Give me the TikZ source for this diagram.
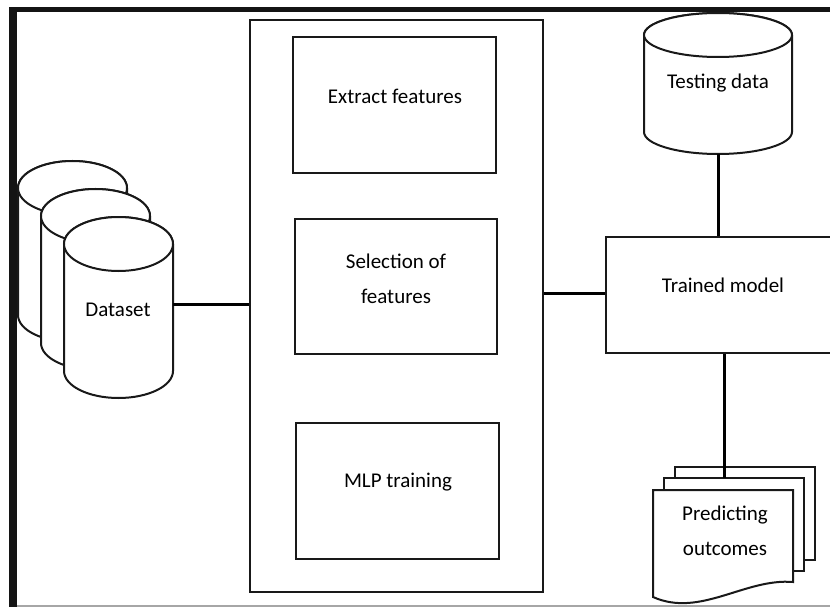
\documentclass[tikz,border=0pt]{standalone}
\usepackage{fontspec}
\setmainfont{Carlito}
\begin{document}
\begin{tikzpicture}[x=1pt,y=1pt,
  every node/.style={font=\fontsize{21}{35}\selectfont, text=black, inner sep=0pt},
  boxshape/.style={draw=black!90, line width=2pt, fill=white, inner sep=0pt},
  phantom/.style={draw=none, inner sep=0pt},
  shapeline/.style={draw=black!90, line width=2pt, fill=white},
  conn/.style={draw=black, line width=3pt}]
\useasboundingbox (0,0) rectangle (830,-607);
\clip (0,0) rectangle (830,-607);
\fill[white] (0,0) rectangle (830,-607);
% frame
\fill[black!92] (9,-7) rectangle (17,-607);
\fill[black!92] (9,-7) rectangle (830,-12);
\draw[gray!70, line width=1.5pt] (17,-606) -- (830,-606);

% main container and inner boxes
\node[boxshape, minimum width=293, minimum height=572] (main) at (396.5,-306) {};
\node[boxshape, minimum width=203, minimum height=136] (extract) at (394.5,-105) {};
\node (extracttxt) at (395,-96) {Extract features};
\node[boxshape, minimum width=202, minimum height=135] (select) at (396,-286.5) {};
\node[align=center] (selecttxt) at (396,-278.5) {Selection of\\features};
\node[boxshape, minimum width=203, minimum height=136] (mlp) at (397.5,-491) {};
\node (mlptxt) at (398,-482) {MLP training};

% dataset cylinders
\path[shapeline] (18,-188) -- (18,-315) arc[start angle=180, end angle=360, x radius=54.5, y radius=27] -- (127,-188) arc[start angle=0, end angle=180, x radius=54.5, y radius=27] -- cycle;
\draw[shapeline] (72.5,-188) ellipse [x radius=54.5, y radius=27];
\path[shapeline] (41,-216) -- (41,-343) arc[start angle=180, end angle=360, x radius=54.5, y radius=27] -- (150,-216) arc[start angle=0, end angle=180, x radius=54.5, y radius=27] -- cycle;
\draw[shapeline] (95.5,-216) ellipse [x radius=54.5, y radius=27];
\path[shapeline] (64,-244) -- (64,-371) arc[start angle=180, end angle=360, x radius=54.5, y radius=27] -- (173,-244) arc[start angle=0, end angle=180, x radius=54.5, y radius=27] -- cycle;
\draw[shapeline] (118.5,-244) ellipse [x radius=54.5, y radius=27];
\node[phantom, minimum width=109, minimum height=127] (dataset) at (118.5,-307.5) {};
\node (datasettxt) at (118,-310) {Dataset};

% testing data cylinder
\path[shapeline] (644,-35) -- (644,-132) arc[start angle=180, end angle=360, x radius=74, y radius=22] -- (792,-35) arc[start angle=0, end angle=180, x radius=74, y radius=22] -- cycle;
\draw[shapeline] (718,-35) ellipse [x radius=74, y radius=22];
\node[phantom, minimum width=148, minimum height=141] (testing) at (718,-83.5) {};
\node (testingtxt) at (718,-83) {Testing data};

% trained model
\node[boxshape, minimum width=236, minimum height=116] (tm) at (724,-295) {};
\node (tmtxt) at (723,-285) {Trained model};

% documents
\path[shapeline] (675,-467) rectangle (815,-560);
\node[phantom, minimum width=140, minimum height=93] (docback) at (745,-513.5) {};
\path[shapeline] (664,-478) rectangle (804,-571);
\node[phantom, minimum width=140, minimum height=93] (docmid) at (734,-524.5) {};
\path[shapeline] (653,-490) -- (793,-490) -- (793,-582) .. controls (745,-578) and (700,-618) .. (653,-597) -- cycle;
\node[align=center] (doctxt) at (725,-530.5) {Predicting\\outcomes};

% connectors
\draw[conn] ([yshift=3.5pt]dataset.east) -- ([yshift=3.5pt]dataset.east -| main.west);
\coordinate (mainR) at (main.east |- 0,-293);
\draw[conn] (mainR) -- (mainR -| tm.west);
\draw[conn] (testing.south) -- (testing.south |- tm.north);
\draw[conn] (tm.south) -- (tm.south |- docmid.north);
\end{tikzpicture}
\end{document}
